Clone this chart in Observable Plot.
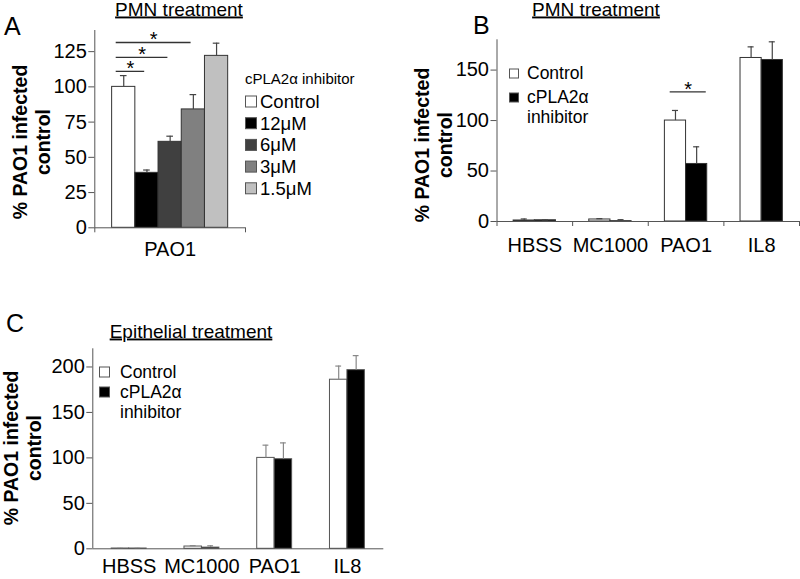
<!DOCTYPE html>
<html>
<head>
<meta charset="utf-8">
<script src="https://cdn.jsdelivr.net/npm/d3@7"></script>
<script src="https://cdn.jsdelivr.net/npm/@observablehq/plot@0.6"></script>
<style>
  html, body { margin: 0; padding: 0; background: #fff; }
  #root { position: relative; width: 800px; height: 579px; overflow: hidden; background: #fff; }
</style>
</head>
<body>
<div id="root"></div>
<script>
// ---------- DATA ----------
// Panel A: PMN treatment, PAO1, cPLA2α inhibitor doses
const groupsA = ["PAO1"];
const seriesA = ["Control", "12μM", "6μM", "3μM", "1.5μM"];
const valuesA = [100, 39, 61, 84, 122];
const errorsA = [8, 2, 4, 10.5, 9];
const ticksA = [0, 25, 50, 75, 100, 125];
const sigA = [
  { from: "Control", to: "12μM", y: 111 },
  { from: "Control", to: "6μM", y: 121 },
  { from: "Control", to: "3μM", y: 131.5 }
];

// Panel B: PMN treatment
const categoriesB = ["HBSS", "MC1000", "PAO1", "IL8"];
const seriesBC = ["Control", "cPLA2α inhibitor"];
const controlB = [1, 2, 100, 162];
const controlErrB = [1.5, 0.8, 10, 11];
const inhibitorB = [1.2, 0.3, 57, 160];
const inhibitorErrB = [0.3, 1.5, 17, 18];
const ticksB = [0, 50, 100, 150];
const sigB = [{ cat: "PAO1", y: 128.5 }];

// Panel C: Epithelial treatment
const categoriesC = ["HBSS", "MC1000", "PAO1", "IL8"];
const controlC = [0.3, 2.5, 100, 186];
const controlErrC = [0.2, 1, 14, 15];
const inhibitorC = [0.3, 1.3, 98.5, 196.5];
const inhibitorErrC = [0.2, 2, 18, 16];
const ticksC = [0, 50, 100, 150, 200];

// ---------- STYLES ----------
const FONT = '"Liberation Sans", Arial, Helvetica, sans-serif';
const colorsA = ["#ffffff", "#000000", "#404040", "#808080", "#c0c0c0"];
const colorsBC = ["#ffffff", "#000000"];
const AX = "#555";
const TICKFS = 20;

const root = document.getElementById("root");
function mount(svg, left, top) {
  svg.style.position = "absolute";
  svg.style.left = left + "px";
  svg.style.top = top + "px";
  root.appendChild(svg);
}

// ---------- PANEL A ----------
const rowsA = seriesA.map((s, i) => ({ series: s, i, value: valuesA[i], err: errorsA[i] }));
const wA = 0.154, capA = 0.022;
const cxA = i => (i - (seriesA.length - 1) / 2) * wA;
const sigRowsA = sigA.map(d => {
  const x1 = cxA(seriesA.indexOf(d.from)) - 0.05;
  const x2 = cxA(seriesA.indexOf(d.to)) - 0.015;
  return { ...d, x1, x2, xm: (x1 + x2) / 2 };
});
const plotA = Plot.plot({
  width: 250, height: 270,
  marginLeft: 94.3, marginRight: 5, marginTop: 30, marginBottom: 42.7,
  x: { domain: [-0.5, 0.5] },
  y: { domain: [0, 140] },
  color: { domain: seriesA, range: colorsA },
  style: { fontFamily: FONT, fontSize: "18px", background: "transparent", color: "#000" },
  marks: [
    Plot.rectY(rowsA, { x1: d => cxA(d.i) - wA / 2, x2: d => cxA(d.i) + wA / 2, y1: 0, y2: "value", fill: "series", stroke: "#333", strokeWidth: 1 }),
    Plot.ruleX(rowsA, { x: d => cxA(d.i), y1: "value", y2: d => d.value + d.err, stroke: "#444", strokeWidth: 1.2 }),
    Plot.ruleY(rowsA, { y: d => d.value + d.err, x1: d => cxA(d.i) - capA, x2: d => cxA(d.i) + capA, stroke: "#444", strokeWidth: 1.2 }),
    Plot.ruleY(sigRowsA, { y: "y", x1: "x1", x2: "x2", stroke: "#333", strokeWidth: 1.3 }),
    Plot.text(sigRowsA, { x: "xm", y: "y", text: () => "*", fontSize: 20, lineAnchor: "bottom", dy: 4, fill: "#000" }),
    Plot.ruleX([-0.5], { stroke: AX }),
    Plot.ruleY([0], { stroke: AX }),
    Plot.axisY({ ticks: ticksA, tickSize: 6, tickPadding: 2, label: null, fontSize: TICKFS, stroke: AX, fill: "#000" }),
    Plot.axisX({ ticks: [-0.5, 0.5], tickSize: 5, tickFormat: () => "", label: null, stroke: AX }),
    Plot.axisX({ ticks: groupsA.map((g, i) => i), tickSize: 0, tickPadding: 14, tickFormat: i => groupsA[i], label: null, fontSize: TICKFS, fill: "#000" })
  ]
});
mount(plotA, 0, 0);

// ---------- helper for two-series panels ----------
function rowsOf(cats, c, ce, h, he) {
  return cats.flatMap((cat, i) => [
    { cat, i, s: 0, series: seriesBC[0], value: c[i], err: ce[i] },
    { cat, i, s: 1, series: seriesBC[1], value: h[i], err: he[i] }
  ]);
}

// ---------- PANEL B ----------
const rowsB = rowsOf(categoriesB, controlB, controlErrB, inhibitorB, inhibitorErrB);
const wB = 0.28, capB = 0.04;
const cxB = d => d.i + (d.s - 0.5) * wB;
const sigRowsB = sigB.map(d => {
  const i = categoriesB.indexOf(d.cat);
  const x1 = i - 0.21, x2 = i + 0.267;
  return { ...d, x1, x2, xm: (x1 + x2) / 2 };
});
const plotB = Plot.plot({
  width: 400, height: 270,
  marginLeft: 96.5, marginRight: 1, marginTop: 39.3, marginBottom: 49,
  x: { domain: [-0.5, categoriesB.length - 0.5] },
  y: { domain: [0, 180] },
  color: { domain: seriesBC, range: colorsBC },
  style: { fontFamily: FONT, fontSize: "18px", background: "transparent", color: "#000" },
  marks: [
    Plot.rectY(rowsB, { x1: d => cxB(d) - wB / 2, x2: d => cxB(d) + wB / 2, y1: 0, y2: "value", fill: "series", stroke: "#333", strokeWidth: 1 }),
    Plot.ruleX(rowsB, { x: cxB, y1: "value", y2: d => d.value + d.err, stroke: "#444", strokeWidth: 1.2 }),
    Plot.ruleY(rowsB, { y: d => d.value + d.err, x1: d => cxB(d) - capB, x2: d => cxB(d) + capB, stroke: "#444", strokeWidth: 1.2 }),
    Plot.ruleY(sigRowsB, { y: "y", x1: "x1", x2: "x2", stroke: "#333", strokeWidth: 1.3 }),
    Plot.text(sigRowsB, { x: "xm", y: "y", text: () => "*", fontSize: 20, lineAnchor: "bottom", dy: 4, fill: "#000" }),
    Plot.ruleX([-0.5], { stroke: AX }),
    Plot.ruleY([0], { stroke: AX }),
    Plot.axisY({ ticks: ticksB, tickSize: 6, tickPadding: 2, label: null, fontSize: TICKFS, stroke: AX, fill: "#000" }),
    Plot.axisX({ ticks: d3.range(categoriesB.length + 1).map(k => k - 0.5), tickSize: 5, tickFormat: () => "", label: null, stroke: AX }),
    Plot.axisX({ ticks: categoriesB.map((c, i) => i), tickSize: 0, tickPadding: 16, tickFormat: i => categoriesB[i], label: null, fontSize: TICKFS, fill: "#000" })
  ]
});
mount(plotB, 400, 0);

// ---------- PANEL C ----------
const rowsC = rowsOf(categoriesC, controlC, controlErrC, inhibitorC, inhibitorErrC);
const wC = 0.24, capC = 0.04;
const cxC = d => d.i + (d.s - 0.5) * wC;
const plotC = Plot.plot({
  width: 400, height: 279,
  marginLeft: 92.3, marginRight: 16.7, marginTop: 48.3, marginBottom: 30.7,
  x: { domain: [-0.5, categoriesC.length - 0.5] },
  y: { domain: [0, 220] },
  color: { domain: seriesBC, range: colorsBC },
  style: { fontFamily: FONT, fontSize: "18px", background: "transparent", color: "#000" },
  marks: [
    Plot.rectY(rowsC, { x1: d => cxC(d) - wC / 2, x2: d => cxC(d) + wC / 2, y1: 0, y2: "value", fill: "series", stroke: "#555", strokeWidth: 1 }),
    Plot.ruleX(rowsC, { x: cxC, y1: "value", y2: d => d.value + d.err, stroke: "#888", strokeWidth: 1.2 }),
    Plot.ruleY(rowsC, { y: d => d.value + d.err, x1: d => cxC(d) - capC, x2: d => cxC(d) + capC, stroke: "#888", strokeWidth: 1.2 }),
    Plot.ruleX([-0.5], { stroke: AX }),
    Plot.ruleY([0], { stroke: AX }),
    Plot.axisY({ ticks: ticksC, tickSize: 6, tickPadding: 2, label: null, fontSize: TICKFS, stroke: AX, fill: "#000" }),
    Plot.axisX({ ticks: categoriesC.map((c, i) => i), tickSize: 0, tickPadding: 10, tickFormat: i => categoriesC[i], label: null, fontSize: TICKFS, fill: "#000" })
  ]
});
mount(plotC, 0, 300);

// ---------- ANNOTATION OVERLAY (titles, labels, legends) ----------
const ov = d3.create("svg")
  .attr("width", 800).attr("height", 579)
  .style("position", "absolute").style("left", "0px").style("top", "0px")
  .style("font-family", FONT).style("pointer-events", "none");

const titles = [
  { text: "PMN treatment", x: 179, y: 15.5 },
  { text: "PMN treatment", x: 596, y: 15.5 },
  { text: "Epithelial treatment", x: 191, y: 337.5 }
];
ov.selectAll("text.title").data(titles).join("text")
  .attr("class", "title")
  .attr("x", d => d.x).attr("y", d => d.y)
  .attr("text-anchor", "middle").attr("font-size", 19)
  .style("text-decoration", "underline")
  .text(d => d.text);

const letters = [
  { text: "A", x: 4, y: 35 },
  { text: "B", x: 473, y: 34 },
  { text: "C", x: 6, y: 332 }
];
ov.selectAll("text.letter").data(letters).join("text")
  .attr("class", "letter")
  .attr("x", d => d.x).attr("y", d => d.y)
  .attr("font-size", 25)
  .text(d => d.text);

const ylabLines = ["% PAO1 infected", "control"];
const ylabs = [
  { cy: 142, b: [26.7, 50] },
  { cy: 145, b: [428.5, 452] },
  { cy: 448, b: [18, 41] }
];
ylabs.forEach(l => {
  const t = ov.append("text")
    .attr("transform", `translate(0,${l.cy}) rotate(-90)`)
    .attr("text-anchor", "middle").attr("font-size", 19.5).attr("font-weight", "bold");
  ylabLines.forEach((s, k) => t.append("tspan").attr("x", 0).attr("y", l.b[k]).text(s));
});

// Legend A
ov.append("text").attr("x", 245).attr("y", 83.5).attr("font-size", 15).text("cPLA2α inhibitor");
seriesA.forEach((s, i) => {
  const by = 108 + i * 21.7;
  ov.append("rect").attr("x", 245.5).attr("y", by - 12).attr("width", 11).attr("height", 11)
    .attr("fill", colorsA[i]).attr("stroke", "#555");
  ov.append("text").attr("x", 260).attr("y", by).attr("font-size", 18.5).text(s);
});

// Legends B and C
function legend2(sx, ss, tx, swatchCenters, baselines) {
  swatchCenters.forEach((c, i) => {
    ov.append("rect").attr("x", sx).attr("y", c - ss / 2).attr("width", ss).attr("height", ss)
      .attr("fill", colorsBC[i]).attr("stroke", "#555");
  });
  const lines = [seriesBC[0], ...seriesBC[1].split(" ")];
  lines.forEach((s, k) => ov.append("text").attr("x", tx).attr("y", baselines[k]).attr("font-size", 17.5).text(s));
}
legend2(509.5, 9, 527, [73.5, 97.5], [78.5, 102.5, 122.5]);
legend2(99.5, 10, 120, [372, 392], [377.5, 397.5, 418]);

root.appendChild(ov.node());
</script>
</body>
</html>
